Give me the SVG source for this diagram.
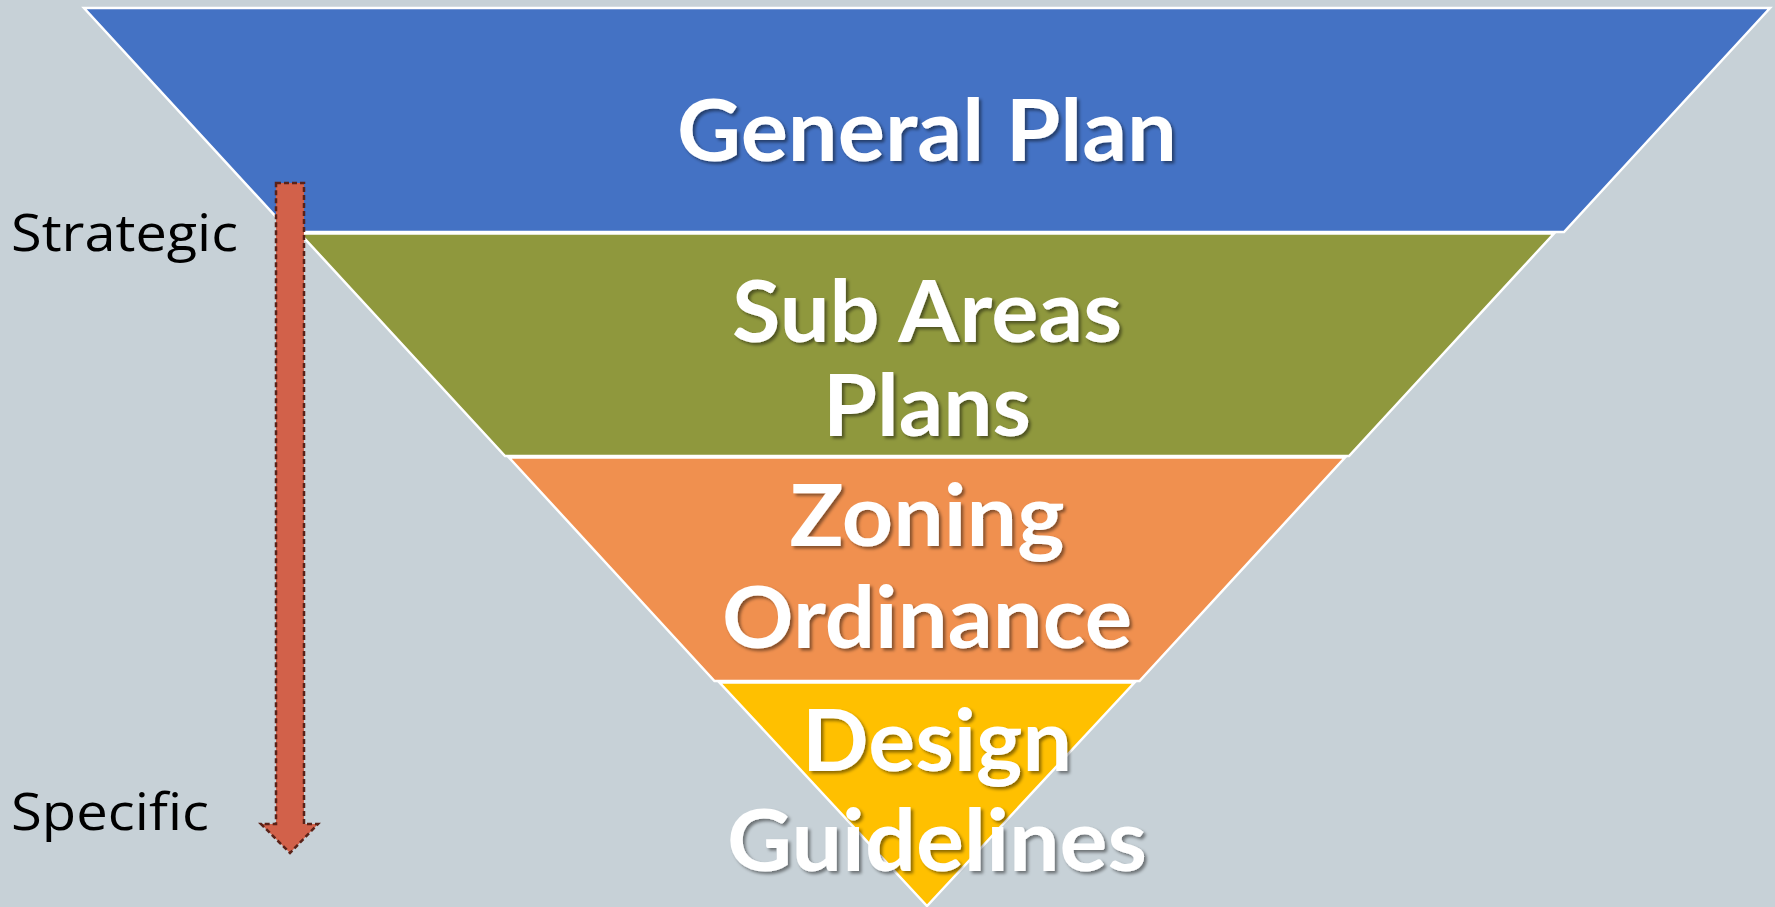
<svg xmlns="http://www.w3.org/2000/svg" width="1775" height="907" viewBox="0 0 1775 907">
  <style>
    .band { stroke: #ffffff; stroke-width: 2.5; stroke-linejoin: miter; }
    .label { font-family: Lato, "Open Sans", sans-serif; font-weight: 700; font-size: 86px; fill: #ffffff; text-anchor: middle; filter: url(#shadow); }
    .side { font-family: "Open Sans", "Noto Sans", sans-serif; font-size: 52px; fill: #000000; }
    .arrow { fill: #D2614A; stroke: #5A2218; stroke-width: 2.5; stroke-dasharray: 5 3; }
  </style>
  <defs>
    <filter id="shadow" x="-10%" y="-20%" width="120%" height="150%">
      <feDropShadow dx="2.5" dy="2.5" stdDeviation="1.8" flood-color="#000000" flood-opacity="0.45"/>
    </filter>
  </defs>

  <!-- background -->
  <rect x="0" y="0" width="1775" height="907" fill="#C7D1D7"/>

  <!-- inverted pyramid bands -->
  <g id="general-plan">
    <polygon class="band" fill="#4472C4" points="84,8 1770,8 1564,232 290,232"/>
    <text class="label" x="927" y="161" textLength="500" lengthAdjust="spacingAndGlyphs">General Plan</text>
  </g>
  <g id="sub-areas-plans">
    <polygon class="band" fill="#8F983D" points="300,233.5 1554,233.5 1349,456 505,456"/>
    <text class="label" x="927" y="342" textLength="390" lengthAdjust="spacingAndGlyphs">Sub Areas</text>
    <text class="label" x="927" y="436" textLength="208" lengthAdjust="spacingAndGlyphs">Plans</text>
  </g>
  <g id="zoning-ordinance">
    <polygon class="band" fill="#F0904F" points="509,457.5 1345,457.5 1139.5,681 714.5,681"/>
    <text class="label" x="927" y="546" textLength="275" lengthAdjust="spacingAndGlyphs">Zoning</text>
    <text class="label" x="927" y="648" textLength="410" lengthAdjust="spacingAndGlyphs">Ordinance</text>
  </g>
  <g id="design-guidelines">
    <polygon class="band" fill="#FFC000" points="719.5,682.5 1134.5,682.5 927,906"/>
    <text class="label" x="937" y="771" textLength="270" lengthAdjust="spacingAndGlyphs">Design</text>
    <text class="label" x="937" y="871" textLength="420" lengthAdjust="spacingAndGlyphs">Guidelines</text>
  </g>

  <!-- strategic-to-specific arrow -->
  <g id="connectors">
    <path class="arrow" d="M276,183 H304 V824 H318 L290,853 L261,824 H276 Z"/>
  </g>

  <g id="scale-labels">
    <text class="side" x="11" y="251" textLength="227" lengthAdjust="spacingAndGlyphs">Strategic</text>
    <text class="side" x="11" y="830" textLength="198" lengthAdjust="spacingAndGlyphs">Specific</text>
  </g>
</svg>
